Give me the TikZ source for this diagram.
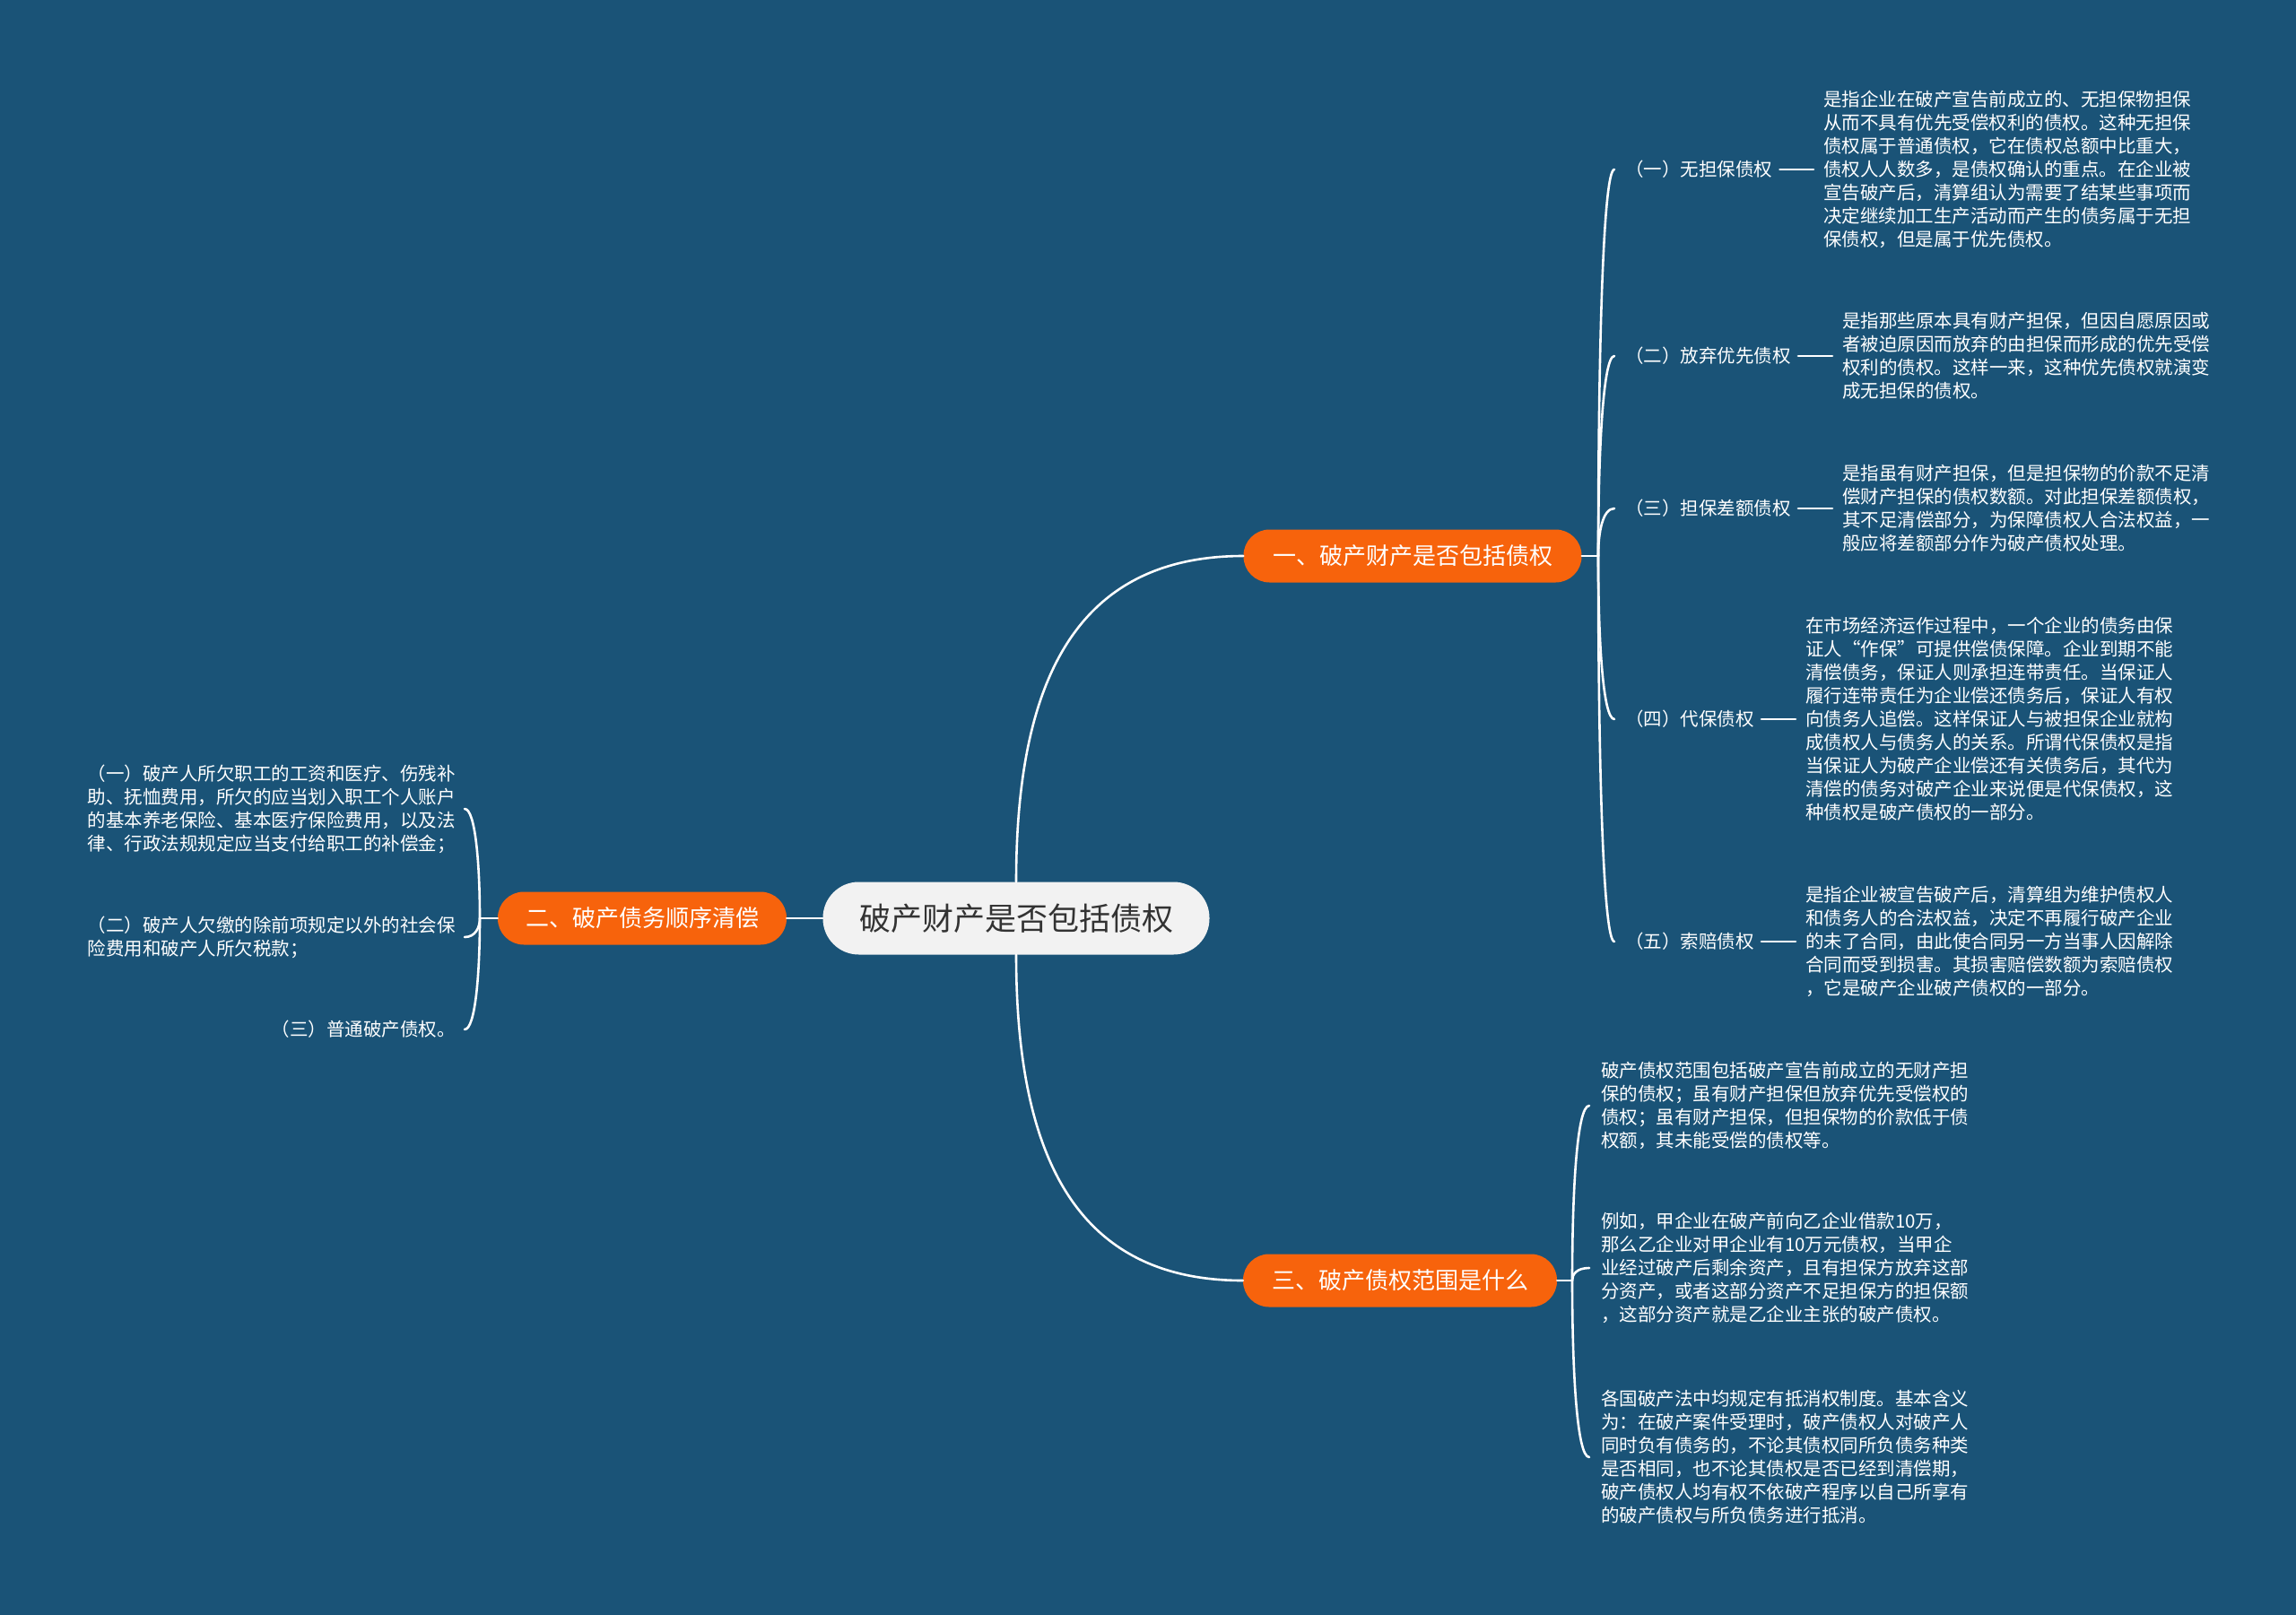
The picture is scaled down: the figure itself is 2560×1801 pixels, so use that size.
\documentclass[tikz,border=0pt]{standalone}
\usepackage{fontspec}
\newfontfamily\cjk{Noto Sans CJK SC}
\usetikzlibrary{calc}
\definecolor{bg}{RGB}{26,83,119}
\definecolor{org}{RGB}{247,99,12}
\definecolor{rootfill}{RGB}{242,242,242}
\definecolor{roottext}{RGB}{51,51,51}
\begin{document}
\begin{tikzpicture}[x=1pt,y=-1pt,
  conn/.style={draw=white, line width=2.6pt, line cap=round},
  rootbox/.style={fill=rootfill, text=roottext, rounded corners=40pt, minimum height=81pt, minimum width=431pt, inner sep=0pt, font=\cjk\fontsize{35}{42}\selectfont},
  mainbox/.style={fill=org, text=white, rounded corners=29pt, minimum height=59pt, inner sep=0pt, font=\cjk\fontsize{26}{32}\selectfont},
  sublab/.style={text=white, inner sep=0pt, anchor=west, font=\cjk\fontsize{20.5}{26}\selectfont},
  leaf/.style={text=white, align=left, inner sep=0pt, font=\cjk\fontsize{20.5}{26}\selectfont},
]
\fill[bg] (0,0) rectangle (2560,1801);
\useasboundingbox (0,0) rectangle (2560,1801);

% main nodes
\node[rootbox] (root) at (1133,1024) {破产财产是否包括债权};
\node[mainbox, minimum width=377pt] (b1) at (1575,620) {一、破产财产是否包括债权};
\node[mainbox, minimum width=322pt] (b2) at (716,1024) {二、破产债务顺序清偿};
\node[mainbox, minimum width=350pt] (b3) at (1561,1428) {三、破产债权范围是什么};

% branch 1 children
\node[sublab] (l1) at (1812,189) {（一）无担保债权};
\node[sublab] (l2) at (1812,397) {（二）放弃优先债权};
\node[sublab] (l3) at (1812,567) {（三）担保差额债权};
\node[sublab] (l4) at (1812,802) {（四）代保债权};
\node[sublab] (l5) at (1812,1050) {（五）索赔债权};

\node[leaf, anchor=west] (t1) at (2033,189) {是指企业在破产宣告前成立的、无担保物担保\\从而不具有优先受偿权利的债权。这种无担保\\债权属于普通债权，它在债权总额中比重大，\\债权人人数多，是债权确认的重点。在企业被\\宣告破产后，清算组认为需要了结某些事项而\\决定继续加工生产活动而产生的债务属于无担\\保债权，但是属于优先债权。};
\node[leaf, anchor=west] (t2) at (2054,397) {是指那些原本具有财产担保，但因自愿原因或\\者被迫原因而放弃的由担保而形成的优先受偿\\权利的债权。这样一来，这种优先债权就演变\\成无担保的债权。};
\node[leaf, anchor=west] (t3) at (2054,567) {是指虽有财产担保，但是担保物的价款不足清\\偿财产担保的债权数额。对此担保差额债权，\\其不足清偿部分，为保障债权人合法权益，一\\般应将差额部分作为破产债权处理。};
\node[leaf, anchor=west] (t4) at (2013,802) {在市场经济运作过程中，一个企业的债务由保\\证人“作保”可提供偿债保障。企业到期不能\\清偿债务，保证人则承担连带责任。当保证人\\履行连带责任为企业偿还债务后，保证人有权\\向债务人追偿。这样保证人与被担保企业就构\\成债权人与债务人的关系。所谓代保债权是指\\当保证人为破产企业偿还有关债务后，其代为\\清偿的债务对破产企业来说便是代保债权，这\\种债权是破产债权的一部分。};
\node[leaf, anchor=west] (t5) at (2013,1050) {是指企业被宣告破产后，清算组为维护债权人\\和债务人的合法权益，决定不再履行破产企业\\的未了合同，由此使合同另一方当事人因解除\\合同而受到损害。其损害赔偿数额为索赔债权\\，它是破产企业破产债权的一部分。};

% branch 3 children
\node[leaf, anchor=west] (c1) at (1785,1233) {破产债权范围包括破产宣告前成立的无财产担\\保的债权；虽有财产担保但放弃优先受偿权的\\债权；虽有财产担保，但担保物的价款低于债\\权额，其未能受偿的债权等。};
\node[leaf, anchor=west] (c2) at (1785,1414) {例如，甲企业在破产前向乙企业借款10万，\\那么乙企业对甲企业有10万元债权，当甲企\\业经过破产后剩余资产，且有担保方放弃这部\\分资产，或者这部分资产不足担保方的担保额\\，这部分资产就是乙企业主张的破产债权。};
\node[leaf, anchor=west] (c3) at (1785,1625) {各国破产法中均规定有抵消权制度。基本含义\\为：在破产案件受理时，破产债权人对破产人\\同时负有债务的，不论其债权同所负债务种类\\是否相同，也不论其债权是否已经到清偿期，\\破产债权人均有权不依破产程序以自己所享有\\的破产债权与所负债务进行抵消。};

% branch 2 children
\node[leaf, anchor=east] (d1) at (508,902) {（一）破产人所欠职工的工资和医疗、伤残补\\助、抚恤费用，所欠的应当划入职工个人账户\\的基本养老保险、基本医疗保险费用，以及法\\律、行政法规规定应当支付给职工的补偿金；};
\node[leaf, anchor=east] (d2) at (508,1045) {（二）破产人欠缴的除前项规定以外的社会保\\险费用和破产人所欠税款；};
\node[leaf, anchor=east] (d3) at (508,1148) {（三）普通破产债权。};

% junctions
\coordinate (j1) at (1782,620);
\coordinate (j2) at (535,1024);
\coordinate (j3) at (1753,1428);

% main connectors
\draw[conn] (root.north) .. controls ($(root.north)+(0,-225)$) and ($(b1.west)+(-186,0)$) .. (b1.west);
\draw[conn] (root.south) .. controls ($(root.south)+(0,225)$) and ($(b3.west)+(-186,0)$) .. (b3.west);
\draw[conn] (root.west) -- (b2.east);

% bracket branch 1
\draw[conn] (b1.east) -- (j1);
\foreach \n in {l1,l2,l3,l4,l5}{
  \draw[conn] (j1) .. controls ($(j1)!0.5!(j1|-\n.west)$) and ($(j1|-\n.west)+(5,0)$) .. ($(\n.west)+(-12,0)$);
}
\draw[conn] ($(l1.east)+(8,0)$) -- ($(t1.west)+(-11,0)$);
\draw[conn] ($(l2.east)+(8,0)$) -- ($(t2.west)+(-11,0)$);
\draw[conn] ($(l3.east)+(8,0)$) -- ($(t3.west)+(-11,0)$);
\draw[conn] ($(l4.east)+(8,0)$) -- ($(t4.west)+(-11,0)$);
\draw[conn] ($(l5.east)+(8,0)$) -- ($(t5.west)+(-11,0)$);

% bracket branch 3
\draw[conn] (b3.east) -- (j3);
\foreach \n in {c1,c2,c3}{
  \draw[conn] (j3) .. controls ($(j3)!0.5!(j3|-\n.west)$) and ($(j3|-\n.west)+(5,0)$) .. ($(\n.west)+(-13,0)$);
}

% bracket branch 2
\draw[conn] (b2.west) -- (j2);
\foreach \n in {d1,d2,d3}{
  \draw[conn] (j2) .. controls ($(j2)!0.5!(j2|-\n.east)$) and ($(j2|-\n.east)+(-5,0)$) .. ($(\n.east)+(10,0)$);
}
\end{tikzpicture}
\end{document}
